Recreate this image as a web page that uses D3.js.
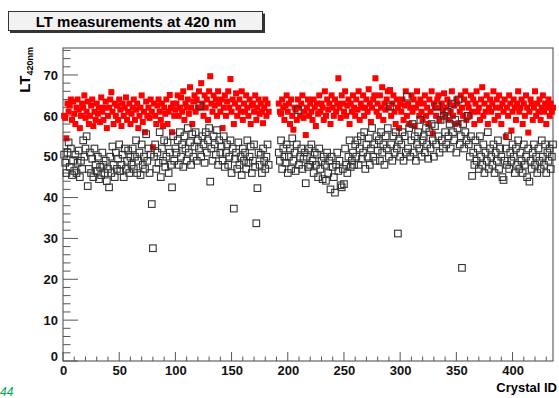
<!DOCTYPE html>
<html>
<head>
<meta charset="utf-8">
<script src="https://cdn.jsdelivr.net/npm/d3@7"></script>
<style>
  body { margin: 0; background: #fff; }
  svg { display: block; font-family: "Liberation Sans", Arial, sans-serif; }
</style>
</head>
<body>
<svg id="chart" width="559" height="398"></svg>
<script>
// LT at 420 nm per crystal, crystal ID = index + 1 (null = not measured)
const redLT = [
  60,59.5,54.5,63,61,62.5,64,59,63.5,60.5,58,62,64,61.5,57,60,63,62,65,59.5,
  61,63.5,58,60,62.5,64,57.5,61,59,63,60.5,62,58.5,64.5,61,59,62,63.5,57,60,
  62,64,65.8,61,58,63,60,62.5,59,64,61.5,57.5,63,60,62,64.5,59,61,63,58,
  60.5,62,64,59,61.5,63,57,60,62,65,58.5,61,56,63.5,60,62,59.5,64,61,52.3,
  63,60,58,62.5,64,61,59,63,57.5,62,60.5,64,58,61,65.1,62,56,63,60,61.5,
  63,65,60,62,64.5,61,66,59,63,62,64,60.5,67,62,58,63.5,65,61,64,62,
  66,62,68,63,60,65,62,64,59,66,69.7,63,61,65,62.5,64,60,66,63,61,
  64,57,62,65,60,63.5,66,62,69,61,64,58,63,65.5,60,62,64,61,66,59,
  63,61,65,62,60,64,58,62.5,63,61,65,59,62,64,60.5,63,61,58.2,62,64,
  60,63,61,null,null,null,null,null,null,null,null,63,61,60.5,64,62,59,62.5,65,61,
  63,58,64,60,56.6,62,61.5,59,64,62,60,63,65,59.5,61,55.3,62,64,60,63,
  61,59,64,62,57.5,63,60.5,65,61,63,62,59,66,60,64,61.5,63,58,65,62,
  60,64,61,63,69.2,62,59.5,65,63,61,66,60,62.5,64,58,63,61,65,62,60,
  64,61.5,66,59,63,62,65,60,62,64,61,66.5,63,58.5,62,64,65,69.2,61,63,
  60,65,62,67,59,63,61.5,64,66,62,66.3,60,63,65,61,58,64,62,57,63,
  61,64,59,62.5,66,60,63,58,62,65,61,64,57.5,62,66,63,60,64,61,59,
  63,65,60,62,58,64,61,66,55.7,63,62,60,64,65,59,62,63,61,65.5,60,
  62,64,59,63,61,66,60,62.5,58,64,63,58.2,61,65,62,60,64,66,59,63,
  62,60,65,61,64,58,63,66,61,62,59,64,67,60,63,61,65,58,62,64,
  61,63,66,59,62,64,60,65,62,58,63,61,64,54.9,62,60,65,63,56.4,61,
  64,62,59,63,66,61,62,64,58,63,60,65,62,55.9,61,64,63,59,62,66,
  60,63,61,64,59,62,65,61,63,58,62,64,60,63,61,62
];
const blackLT = [
  50.5,48.5,46,51,53.5,47.5,52,45.5,49,46.5,50.5,46,48.5,51.5,45,49,47,54,50,52,
  55,42.8,47,51,46,49.5,45,52,48,46.5,50,44.5,47.5,45.5,51,48,46,49,44,47,
  42.5,50,46,52.5,48,45,51,47,49.5,53,46.5,48,50.5,45,52,47,49,51.5,46,50,
  48,52,47,50,54,46,49,51,45.5,53,48,50,47,55.5,49,52,46,50.5,38.4,27.6,
  50,53,47,51,48.5,56,45,52,49,54,47.5,50,53.5,46,51,48,42.5,55,49,52,
  51,54,48,56,50,53,47.5,55,52,49,57,51,53.5,48,55.5,50,52.5,56,49,54,
  52,62.4,50,55,53,48.5,56,51,54,57,43.9,52,49,55,53,50.5,56.5,48,54,51,
  52.5,49,55,47.5,51,53,48,50,54,46,52,37.3,49.5,51,47,53.5,48,50,45.5,52,
  49,51,47,54,48.5,50,52.5,46,49,53,47.5,33.7,42.3,51,48,50.5,46,52,49,47,
  50,53,48,null,null,null,null,null,null,null,null,51,49,54,47,52,50,48.5,53,46,
  50,52,47,54.5,49,51,46.5,53,61.4,48,50,52,47,49.5,51,43.5,50,47.5,52,48,
  53,49,46,51,48,50.5,45,52,47,49,44.5,50,48,44.1,51,46,49,42,50,47.5,
  45,41.2,48,51,46.5,49,43,42.5,47,43.3,52,48,46,50,54,47.5,49,51,48,53,
  50,54,48,52,55,49.5,51,56,47,53,50,54.5,48,52,57,50,53,49,55,51.5,
  54,49,56,51,53,48,55,52,57,50,62.3,53,49,55,51,56,52,31.2,54,50,
  53,56,49,55,51,64.7,52,57,50,54,58,51,55,49,53,56,52,59,50,54,
  55,51,57,53,49.5,56,52,58,54,50,57.5,53,62.3,55,51,59,54,52,60,56,
  53,61,55,58,52,63,56,54,59,51,57,64,53,55,22.8,58,52,56,54,60,
  53,50,55,45.3,51,48,54,49,52,47,55,50,48,53,46,51,49,56,47,52,
  50,48,53,46,51,49,54,47,52,50,45,44.3,49,52,48,55,47,51,49,53,
  50,46,52,48,54,47,51,49,46,53,48,50,45,52,43.9,49,47,51,53,48,
  50,46,52,49,47,54,50,48,53,46,51,49,52,47,50,53
];
const xTicks = [0, 50, 100, 150, 200, 250, 300, 350, 400];
const yTicks = [0, 10, 20, 30, 40, 50, 60, 70];
const titleText = "LT measurements at 420 nm";

const svg = d3.select("#chart");
const frameL = 63, frameR = 553, frameT = 48, frameB = 361;

const x = d3.scaleLinear().domain([0, 436]).range([frameL, frameR]);
const y = d3.scaleLinear().domain([0, 76.6]).range([frameB, frameT]);

// title box with shadow
svg.append("rect").attr("x", 10).attr("y", 13.5).attr("width", 255).attr("height", 19.5).attr("fill", "#333");
svg.append("rect").attr("x", 8.5).attr("y", 11.5).attr("width", 254).attr("height", 19)
    .attr("fill", "#f2f2f2").attr("stroke", "#333").attr("stroke-width", 1);
svg.append("text").attr("x", 136).attr("y", 27).attr("text-anchor", "middle")
    .style("font-size", "15px").style("font-weight", "bold").text(titleText);

// frame
svg.append("rect").attr("x", frameL).attr("y", frameT).attr("width", frameR - frameL).attr("height", frameB - frameT)
    .attr("fill", "none").attr("stroke", "#444").attr("stroke-width", 1);

// ticks, ROOT style (inside the frame)
const gt = svg.append("g").attr("stroke", "#555").attr("stroke-width", 1);
d3.range(0, 436, 10).forEach(function (v) {
    const len = v % 50 == 0 ? 9 : 4.5;
    gt.append("line").attr("x1", x(v)).attr("x2", x(v)).attr("y1", frameB).attr("y2", frameB - len);
});
d3.range(0, 77, 2).forEach(function (v) {
    const len = v % 10 == 0 ? 15 : 7.5;
    gt.append("line").attr("x1", frameL).attr("x2", frameL + len).attr("y1", y(v)).attr("y2", y(v));
});

// axes labels via d3 axes (ticks hidden, labels only)
const xAxis = svg.append("g").attr("transform", `translate(0,${frameB})`)
    .call(d3.axisBottom(x).tickValues(xTicks).tickSize(0).tickPadding(5));
const yAxis = svg.append("g").attr("transform", `translate(${frameL},0)`)
    .call(d3.axisLeft(y).tickValues(yTicks).tickSize(0).tickPadding(5));
[xAxis, yAxis].forEach(function (a) {
    a.select(".domain").remove();
    a.selectAll("text").style("font-size", "13px").style("font-weight", "bold")
        .style("font-family", "'Liberation Sans', Arial, sans-serif").attr("fill", "#111");
});
yAxis.selectAll("text").filter(d => d == 0).attr("dy", "-0.05em");

// axis titles
svg.append("text").attr("x", 557).attr("y", 392).attr("text-anchor", "end")
    .style("font-size", "13px").style("font-weight", "bold").text("Crystal ID");
const yl = svg.append("text").attr("transform", "translate(30,47) rotate(-90)").attr("text-anchor", "end")
    .style("font-weight", "bold");
yl.append("tspan").style("font-size", "15px").text("LT");
yl.append("tspan").style("font-size", "9px").attr("dy", 3).text("420nm");

// points
const redPts = redLT.map((v, i) => ({ id: i + 1, v: v })).filter(d => d.v != null);
const blackPts = blackLT.map((v, i) => ({ id: i + 1, v: v })).filter(d => d.v != null);

svg.append("g").selectAll("rect").data(redPts).enter().append("rect")
    .attr("x", d => x(d.id) - 3).attr("y", d => y(d.v) - 3)
    .attr("width", 6).attr("height", 6).attr("fill", "#ff0000");

svg.append("g").selectAll("rect").data(blackPts).enter().append("rect")
    .attr("x", d => x(d.id) - 3.3).attr("y", d => y(d.v) - 3.3)
    .attr("width", 6.6).attr("height", 6.6).attr("fill", "none")
    .attr("stroke", "#333").attr("stroke-width", 1.1);

// slide page number in the bottom-left corner
svg.append("text").attr("x", 0).attr("y", 396).style("font-size", "12px").style("font-style", "italic")
    .attr("fill", "#00a651").text("44");
</script>
</body>
</html>
